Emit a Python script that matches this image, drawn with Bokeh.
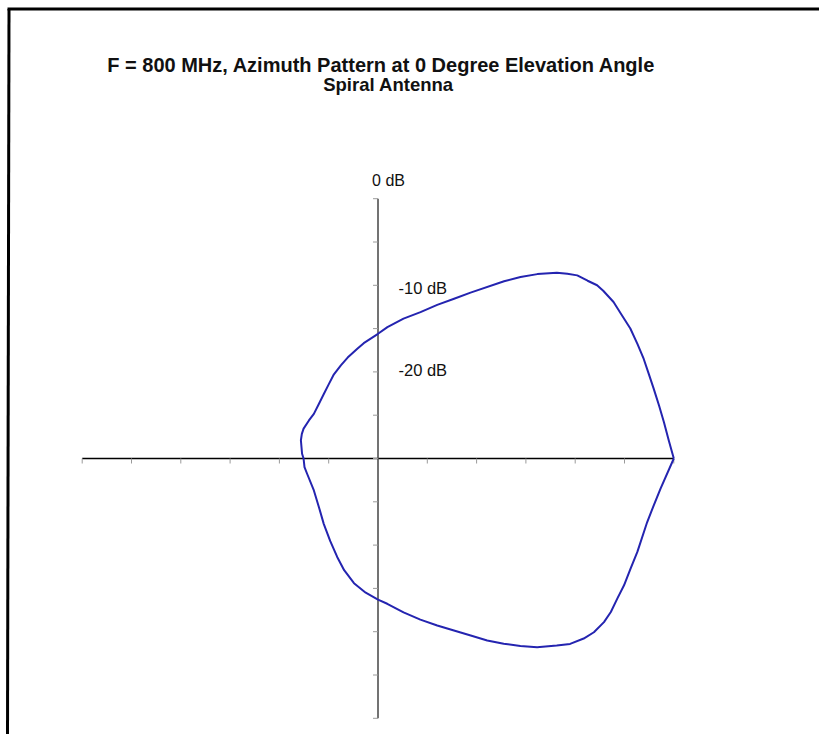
import numpy as np
from bokeh.plotting import figure
from bokeh.models import Range1d
from bokeh.core.properties import value
from bokeh.embed import file_html
from bokeh.resources import INLINE

# Azimuth pattern, spiral antenna at 800 MHz (angle in degrees, gain in dB, normalised)
angle_deg = [0, 4.1, 8.2, 12.1, 16.1, 19.6, 23.1, 26.7, 30.4, 33.7, 37.1, 40.3,
             42.0, 44.0, 46.3, 48.0, 49.8, 52.8, 55.4, 58.0, 63.9, 67.3, 71.3,
             75.7, 80.9, 86.4, 90.0, 96.2, 99.4, 104.8, 109.3, 114.7, 120.0,
             126.4, 133.6, 141.6, 147.9, 155.4, 159.8, 164.9, 175.9, 180.0,
             187.6, 194.0, 209.6, 223.0, 233.9, 243.1, 250.0, 255.1, 260.4,
             265.4, 270.0, 273.2, 278.3, 283.0, 287.3, 291.2, 294.7, 297.8,
             300.8, 303.7, 306.5, 310.0, 312.3, 315.1, 317.5, 320.5, 323.1,
             326.3, 329.6, 333.5, 337.7, 344.9, 349.0, 353.0, 360.0]
gain_db = [0.0, -0.44, -0.7, -0.85, -0.9, -0.85, -0.7, -0.55, -0.33, -0.25,
           -0.05, -0.05, -0.1, -0.45, -0.75, -1.3, -1.9, -3.27, -4.55, -5.87,
           -8.67, -10.0, -11.27, -12.55, -13.64, -14.8, -15.6, -16.6, -17.15,
           -17.95, -18.6, -19.3, -20.05, -20.74, -21.3, -21.7, -21.73, -21.7,
           -21.77, -21.9, -22.28, -22.45, -22.48, -22.6, -22.52, -21.8, -20.66,
           -19.3, -17.9, -16.65, -15.4, -14.45, -13.7, -13.2, -12.05, -10.9,
           -9.8, -8.7, -7.5, -6.25, -5.1, -3.97, -2.87, -1.8, -1.05, -0.55,
           -0.3, -0.3, -0.47, -0.83, -1.07, -1.4, -1.57, -1.73, -1.52, -1.14,
           0.0]

# Radial scale: 5 dB per tick, 0 dB at the outer tick
db_floor = -30.0
db_per_tick = 5.0
tick_pos = list(range(-6, 7))
db_labels = ["0 dB", "-10 dB", "-20 dB"]
db_label_vals = [0, -10, -20]

title_main = "F = 800 MHz, Azimuth Pattern at 0 Degree Elevation Angle"
title_sub = "Spiral Antenna"

W, H = 825, 734
cx, cy = 377.5, 458.0        # screen position of the origin
sx, sy = 49.3, 43.3          # pixels per tick, horizontal / vertical


def xd(px):
    return (px - cx) / sx


def yd(py):
    return (cy - py) / sy


p = figure(width=W, height=H, output_backend="svg", toolbar_location=None,
           x_range=Range1d(xd(0), xd(W)), y_range=Range1d(yd(H), yd(0)),
           min_border=0)
p.axis.visible = False
p.grid.visible = False
p.outline_line_color = None
p.background_fill_color = "white"
p.border_fill_color = "white"

# page frame
p.segment(x0=[xd(8.5), xd(7)], y0=[yd(8.5), yd(8.5)],
          x1=[xd(7), xd(818.5)], y1=[yd(H + 2), yd(8.5)],
          line_color="black", line_width=3)

# axes
p.segment(x0=[-6], y0=[0], x1=[6], y1=[0], line_color="black", line_width=1.6)
p.segment(x0=[0], y0=[-6], x1=[0], y1=[6], line_color="#505050", line_width=1.6)

ticks = [t for t in tick_pos if t != 0]
tlen_x = 5 / sy
tlen_y = 5 / sx
p.segment(x0=ticks, y0=[0] * len(ticks), x1=ticks, y1=[-tlen_x] * len(ticks),
          line_color="#9a9a9a", line_width=1)
p.segment(x0=[0] * len(tick_pos), y0=tick_pos, x1=[-tlen_y] * len(tick_pos),
          y1=tick_pos, line_color="#9a9a9a", line_width=1)

# pattern
th = np.radians(angle_deg)
r = (np.array(gain_db) - db_floor) / db_per_tick
p.line(r * np.cos(th), r * np.sin(th), line_color="#2424b0", line_width=2,
       line_join="round")

# level labels on the vertical axis
lab_r = [(v - db_floor) / db_per_tick for v in db_label_vals]
p.text(x=[xd(388)], y=[lab_r[0] + 18 / sy], text=[db_labels[0]],
       text_font=value("Liberation Sans"), text_font_size="16px",
       text_align="center", text_baseline="middle", text_color="#111111")
p.text(x=[xd(398)] * 2, y=[lab_r[1] - 3 / sy, lab_r[2] + 2 / sy],
       text=db_labels[1:], text_font=value("Liberation Sans"),
       text_font_size="16.5px", text_align="left", text_baseline="middle",
       text_color="#111111")

# title
p.text(x=[xd(381)], y=[yd(64)], text=[title_main],
       text_font=value("Liberation Sans"), text_font_size="20px",
       text_font_style="bold", text_align="center", text_baseline="middle",
       text_color="#111111")
p.text(x=[xd(388)], y=[yd(84)], text=[title_sub],
       text_font=value("Liberation Sans"), text_font_size="18.5px",
       text_font_style="bold", text_align="center", text_baseline="middle",
       text_color="#111111")

open("out.html", "w").write(file_html(p, INLINE))
